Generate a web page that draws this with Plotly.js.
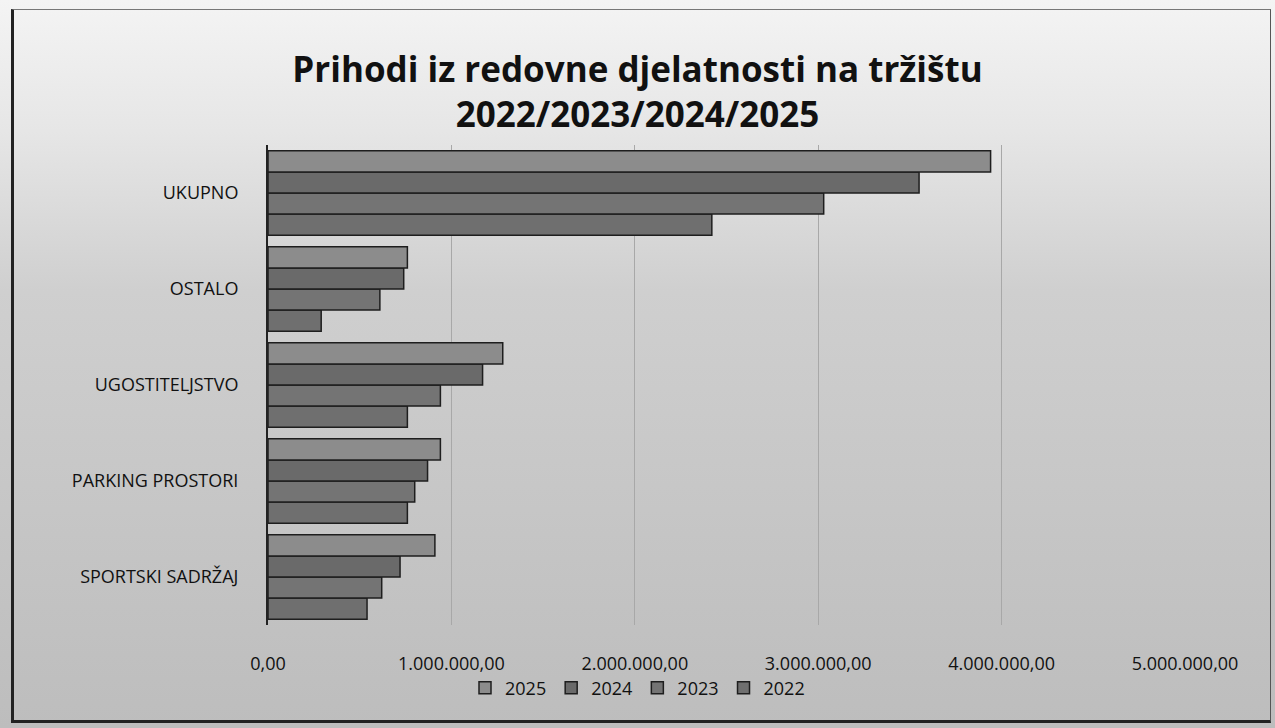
<!DOCTYPE html>
<html>
<head>
<meta charset="utf-8">
<script src="https://cdn.plot.ly/plotly-3.0.1.min.js"></script>
<style>
html,body{margin:0;padding:0;width:1275px;height:728px;overflow:hidden;background:#ffffff;}
#wrap{position:absolute;left:0;top:0;width:1275px;height:728px;
 background:linear-gradient(to bottom,#f4f4f4 0%,#e6e6e6 18%,#cfcfcf 40%,#c6c6c6 70%,#bdbdbd 100%);}
#frame{position:absolute;left:11px;top:9px;width:1256px;height:710px;border:3px solid #222;border-top:1px solid #777;border-right:1px solid #555;pointer-events:none;}
#chart{position:absolute;left:0;top:0;width:1275px;height:728px;}
</style>
</head>
<body>
<div id="wrap"></div>
<div id="chart"></div>
<div id="frame"></div>
<script>
// categories listed bottom-to-top
var categories = ["SPORTSKI SADRŽAJ", "PARKING PROSTORI", "UGOSTITELJSTVO", "OSTALO", "UKUPNO"];
var years = ["2022", "2023", "2024", "2025"];
var values2022 = [540000, 760000, 760000, 290000, 2420000];
var values2023 = [620000, 800000, 940000, 610000, 3030000];
var values2024 = [720000, 870000, 1170000, 740000, 3550000];
var values2025 = [910000, 940000, 1280000, 760000, 3940000];
var tickValues = [0, 1000000, 2000000, 3000000, 4000000, 5000000];

var series = [values2022, values2023, values2024, values2025];
var fills = ["#6f6f6f", "#747474", "#6a6a6a", "#8c8c8c"];

var traces = years.map(function(y, i){
  return {
    type: "bar",
    orientation: "h",
    name: y,
    y: categories,
    x: series[i],
    marker: {color: fills[i], line: {color: "#1e1e1e", width: 1.5}},
    hoverinfo: "x+name"
  };
});

var FONT = "Open Sans, Noto Sans, sans-serif";
var layout = {
  width: 1275, height: 728,
  paper_bgcolor: "rgba(0,0,0,0)",
  plot_bgcolor: "rgba(0,0,0,0)",
  separators: ",.",
  margin: {l: 268, r: 90, t: 145, b: 103, autoexpand: false},
  barmode: "group",
  bargap: 0.12,
  bargroupgap: 0.0,
  title: {
    text: "<b>Prihodi iz redovne djelatnosti na tržištu</b><br><b>2022/2023/2024/2025</b>",
    font: {family: FONT, size: 35, color: "#111"},
    x: 0.5, xanchor: "center", xref: "container",
    yref: "container", y: 0.888, yanchor: "middle"
  },
  xaxis: {
    range: [0, 5000000],
    tickvals: tickValues,
    tickformat: ",.2f",
    showgrid: true, gridcolor: "#a8a8a8", gridwidth: 1,
    zeroline: false, showline: false,
    ticks: "",
    tickfont: {family: FONT, size: 18, color: "#111"},
    ticklabelstandoff: 26
  },
  yaxis: {
    type: "category",
    categoryorder: "array", categoryarray: categories,
    showline: true, linecolor: "#222", linewidth: 2,
    showgrid: false, zeroline: false,
    ticks: "",
    ticklabelstandoff: 24,
    tickfont: {family: FONT, size: 18, color: "#111"}
  },
  showlegend: true,
  legend: {
    orientation: "h", traceorder: "reversed",
    x: 0.5, xanchor: "center", xref: "container",
    yref: "container", y: 0.055, yanchor: "middle",
    font: {family: FONT, size: 18, color: "#111"},
    bgcolor: "rgba(0,0,0,0)",
    itemwidth: 30
  }
};

Plotly.newPlot("chart", traces, layout, {displayModeBar: false, staticPlot: true});
</script>
</body>
</html>
